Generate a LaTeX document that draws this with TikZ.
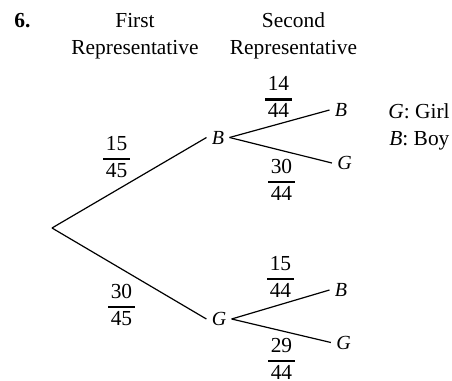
\documentclass[tikz,border=0pt]{standalone}
\usepackage{fontspec}
\setmainfont{Liberation Serif}
\newcommand\myfrac[2]{\vbox{\offinterlineskip\halign{\hfil\kern1.2pt##\kern1.2pt\hfil\cr #1\cr\noalign{\kern3.75pt\hrule height 1.15pt\kern1.5pt}#2\cr}}}
\tikzset{
  lab/.style={font=\itshape, inner xsep=2.5pt, inner ysep=2pt},
  txt/.style={inner sep=0pt},
  frc/.style={inner sep=0pt, yshift=1.1pt},
  br/.style={line width=0.6pt}
}
\begin{document}
\begin{tikzpicture}[x=0.5pt, y=-0.5pt, font=\fontsize{10.7}{13.5}\selectfont]
\useasboundingbox (0,0) rectangle (452,381);
% headings
\node[txt, anchor=base west, font=\fontsize{10.7}{13.5}\selectfont\bfseries] (num) at (14,27) {6.};
\node[txt, anchor=base] (h1a) at (135,27) {First};
\node[txt, anchor=base] (h1b) at (135,54) {Representative};
\node[txt, anchor=base] (h2a) at (293.5,27) {Second};
\node[txt, anchor=base] (h2b) at (293.5,54) {Representative};
% tree nodes
\coordinate (root) at (52,228);
\node[lab] (B1) at (218,137.5) {B};
\node[lab] (G1) at (219,319) {G};
\node[lab] (BB) at (341,110) {B};
\node[lab] (BG) at (344.5,163) {G};
\node[lab] (GB) at (341,290) {B};
\node[lab] (GG) at (343.5,342.5) {G};
% branches
\draw[br] (root) -- (B1.west);
\draw[br] (root) -- (G1.west);
\draw[br] (B1.east) -- (BB.west);
\draw[br] (B1.east) -- (BG.west);
\draw[br] (G1.east) -- (GB.west);
\draw[br] (G1.east) -- (GG.west);
% probabilities
\node[frc] (f1) at (116.5,159) {\myfrac{15}{45}};
\node[frc] (f2) at (278.5,99.5) {\myfrac{14}{44}};
\node[frc] (f3) at (281.5,182) {\myfrac{30}{44}};
\node[frc] (f4) at (121.5,307) {\myfrac{30}{45}};
\node[frc] (f5) at (280.5,278.8) {\myfrac{15}{44}};
\node[frc] (f6) at (281.5,361) {\myfrac{29}{44}};
% legend
\node[txt, anchor=base west] (legG) at (388,118) {\textit{G}: Girl};
\node[txt, anchor=base west] (legB) at (389,145) {\textit{B}: Boy};
\end{tikzpicture}
\end{document}
